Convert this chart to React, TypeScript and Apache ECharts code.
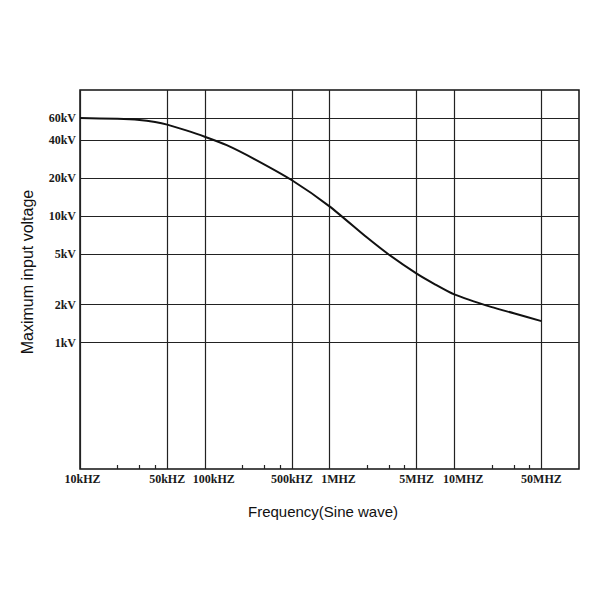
import React, { useEffect, useRef } from "react";
import * as echarts from "echarts";

// Curve: maximum input voltage (V) vs frequency (Hz)
const frequencies = [1e4, 2e4, 3e4, 4e4, 5e4, 7e4, 1e5, 1.5e5, 2.5e5, 5e5, 1e6, 2e6, 3e6, 5e6, 7e6, 1e7, 2e7, 3e7, 5e7];
const voltages = [60000, 59100, 57800, 55700, 53200, 48100, 42700, 36600, 28400, 19300, 12000, 6790, 4970, 3520, 2900, 2410, 1910, 1710, 1480];

// Axis ticks
const xTickValues = [1e4, 5e4, 1e5, 5e5, 1e6, 5e6, 1e7, 5e7];
const xTickLabels = ["10kHZ", "50kHZ", "100kHZ", "500kHZ", "1MHZ", "5MHZ", "10MHZ", "50MHZ"];
const xMinorTickValues = [2e4, 3e4, 4e4, 2e5, 3e5, 4e5, 2e6, 3e6, 4e6, 2e7, 3e7, 4e7];
const yTickValues = [1000, 2000, 5000, 10000, 20000, 40000, 60000];
const yTickLabels = ["1kV", "2kV", "5kV", "10kV", "20kV", "40kV", "60kV"];

const xName = "Frequency(Sine wave)";
const yName = "Maximum input voltage";

function findIndex(values: number[], v: number): number {
  return values.findIndex((t) => Math.abs(t - v) / t < 1e-6);
}

export default function App() {
  const ref = useRef<HTMLDivElement>(null);
  useEffect(() => {
    if (!ref.current) return;
    const chart = echarts.init(ref.current, undefined, { renderer: "svg" });
    const labelFont = {
      fontFamily: "Liberation Serif",
      fontSize: 12,
      fontWeight: "bold" as const,
      color: "#1a1a1a",
    };
    chart.setOption({
      animation: false,
      backgroundColor: "#fff",
      grid: {
        left: 80,
        right: 21,
        top: 90,
        height: 379,
        show: true,
        borderColor: "#111",
        borderWidth: 1.5,
        backgroundColor: "transparent",
      },
      xAxis: [
        {
          type: "log",
          logBase: 10,
          min: 1e4,
          max: 1e8,
          axisLine: { show: false },
          axisTick: { show: false, customValues: xTickValues },
          axisLabel: {
            ...labelFont,
            margin: 4,
            customValues: xTickValues,
            formatter: (v: number) => {
              const i = findIndex(xTickValues, v);
              if (i < 0) return "";
              const lab = xTickLabels[i];
              if (i === 0) return "{s|" + lab + "}";
              const isDecade = Math.abs(Math.log10(v) - Math.round(Math.log10(v))) < 1e-6;
              return isDecade ? "{d|" + lab + "}" : lab;
            },
            rich: {
              s: { ...labelFont, padding: [0, 0, 0, 5] },
              d: { ...labelFont, padding: [0, 0, 0, 18] },
            },
          },
          splitLine: { show: true, lineStyle: { color: "#222", width: 1.2 } },
        },
        {
          type: "log",
          logBase: 10,
          min: 1e4,
          max: 1e8,
          position: "bottom",
          axisLine: { show: false },
          axisTick: {
            show: true,
            inside: true,
            length: 4,
            customValues: xMinorTickValues,
            lineStyle: { color: "#222", width: 1.2 },
          },
          axisLabel: { show: false },
          splitLine: { show: false },
        },
      ],
      yAxis: {
        type: "log",
        logBase: 10,
        min: 100,
        max: 1e5,
        axisLine: { show: false },
        axisTick: { show: false, customValues: yTickValues },
        axisLabel: {
          ...labelFont,
          margin: 4,
          customValues: yTickValues,
          formatter: (v: number) => {
            const i = findIndex(yTickValues, v);
            return i >= 0 ? yTickLabels[i] : "";
          },
        },
        splitLine: { show: true, lineStyle: { color: "#222", width: 1.2 } },
      },
      graphic: [
        {
          type: "text",
          x: 323,
          y: 511,
          style: {
            text: xName,
            fontFamily: "Liberation Sans",
            fontSize: 15,
            fill: "#111",
            align: "center",
            verticalAlign: "middle",
          },
        },
        {
          type: "text",
          x: 27,
          y: 272,
          rotation: Math.PI / 2,
          style: {
            text: yName,
            fontFamily: "Liberation Sans",
            fontSize: 16,
            fill: "#111",
            align: "center",
            verticalAlign: "middle",
          },
        },
      ],
      series: [
        {
          type: "line",
          xAxisIndex: 0,
          data: frequencies.map((f, i) => [f, voltages[i]]),
          smooth: 0.2,
          showSymbol: false,
          lineStyle: { color: "#111", width: 2 },
        },
      ],
    });
    return () => chart.dispose();
  }, []);
  return (
    <div
      ref={ref}
      style={{ position: "fixed", left: 0, top: 0, width: 600, height: 600 }}
    />
  );
}
